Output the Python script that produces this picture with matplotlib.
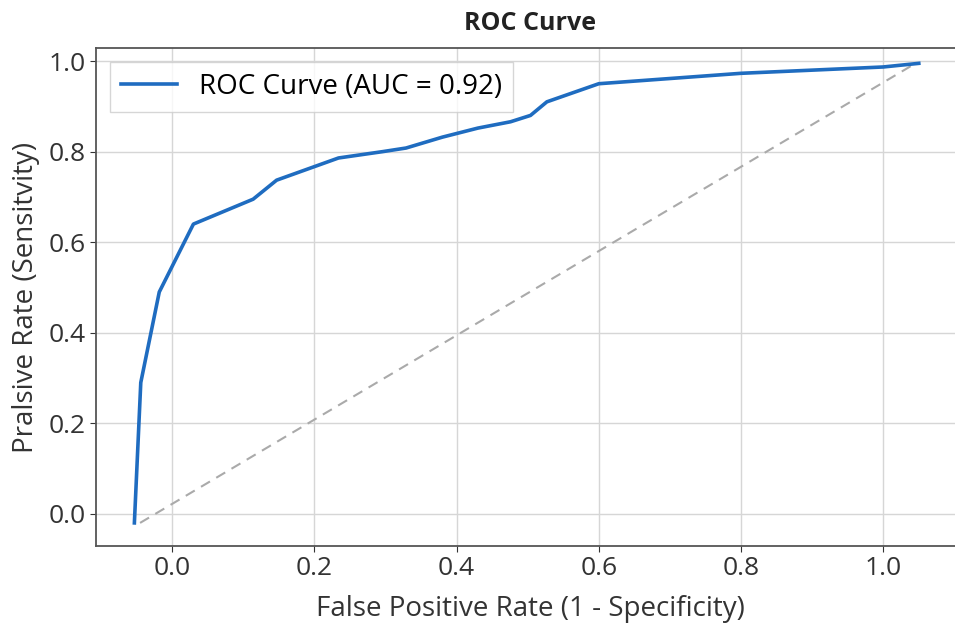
import matplotlib.pyplot as plt

plt.rcParams['font.family'] = ['Open Sans', 'DejaVu Sans']

# ROC curve points
fpr = [-0.053, -0.044, -0.018, 0.03, 0.114, 0.147, 0.234, 0.296, 0.329,
       0.38, 0.43, 0.476, 0.504, 0.527, 0.6, 0.8, 1.0, 1.05]
tpr = [-0.02, 0.29, 0.49, 0.64, 0.695, 0.737, 0.786, 0.80, 0.808,
       0.832, 0.852, 0.866, 0.88, 0.91, 0.95, 0.973, 0.987, 0.995]
auc = 0.92

# chance line
diag_x = [-0.045, 1.04]
diag_y = [-0.02, 0.99]

xticks = [0.0, 0.2, 0.4, 0.6, 0.8, 1.0]
yticks = [0.0, 0.2, 0.4, 0.6, 0.8, 1.0]

fig = plt.figure(figsize=(9.55, 6.31), dpi=100)
ax = fig.add_axes([0.1005, 0.1347, 0.91, 0.7893])

ax.plot(fpr, tpr, color='#1f6cc0', lw=2.6, label=f'ROC Curve (AUC = {auc:.2f})', zorder=3)
ax.plot(diag_x, diag_y, color='#aaaaaa', lw=1.5, ls='--', dashes=(5, 3.5), zorder=2)

ax.set_xlim(-0.107, 1.115)
ax.set_ylim(-0.071, 1.029)
ax.set_xticks(xticks)
ax.set_yticks(yticks)
ax.grid(True, color='#d6d6d6', lw=1)
ax.set_axisbelow(True)

for s in ax.spines.values():
    s.set_color('#555555')
    s.set_linewidth(1.3)

ax.tick_params(labelsize=19, colors='#333333', length=4)
ax.set_xlabel('False Positive Rate (1 - Specificity)', fontsize=20, color='#333333', labelpad=10)
ax.set_ylabel('Pralsive Rate (Sensitvity)', fontsize=20, color='#333333', labelpad=6)
ax.set_title('ROC Curve', fontsize=18, fontweight='bold', color='#222222', pad=13)

ax.legend(loc='upper left', fontsize=20, frameon=True, fancybox=False,
          edgecolor='#cccccc', borderpad=0.4, handlelength=2.0, borderaxespad=0.5)

fig.savefig('out.png', dpi=100)
